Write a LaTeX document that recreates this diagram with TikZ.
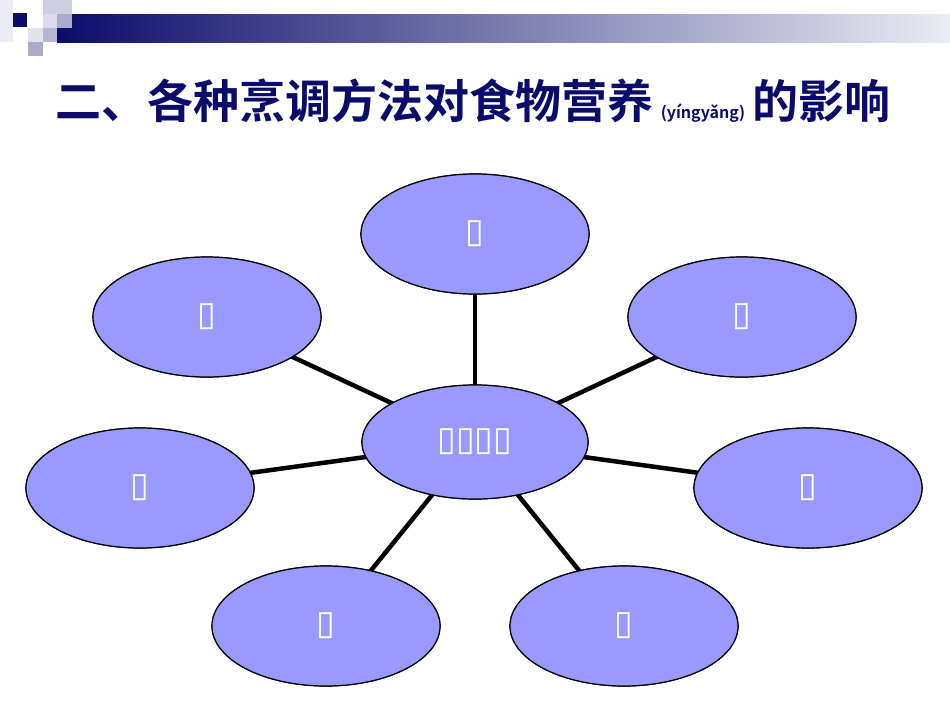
\documentclass[tikz,border=0pt]{standalone}
\usepackage{fontspec}
\usetikzlibrary{shapes.geometric}
\newfontfamily\cjk{Noto Sans CJK SC}[BoldFont={Noto Sans CJK SC Bold}]
\newfontfamily\djfont{DejaVu Sans}[BoldFont={DejaVu Sans Bold}]
\setmainfont{Liberation Sans}
\definecolor{navy}{HTML}{0B0B6B}
\definecolor{efill}{HTML}{9999FF}
\begin{document}
\begin{tikzpicture}[x=1pt,y=-1pt,
  ell/.style={ellipse,draw=black,line width=1.2pt,fill=efill,minimum width=228pt,minimum height=120pt,inner sep=0pt,text=white,font=\djfont\bfseries\fontsize{34}{34}\selectfont},
  spoke/.style={line width=4.5pt,black}]
\useasboundingbox (0,0) rectangle (950,713);
\fill[white] (0,0) rectangle (950,713);
% header decoration
\shade[left color=navy,right color=navy!8] (57,14) rectangle (950,42);
\fill[navy!8] (0,0) rectangle (13,42);
\fill[navy] (13,13) rectangle (27,27);
\fill[navy!20] (43,0) rectangle (72,14);
\fill[navy!15] (43,14) rectangle (57,28);
\fill[navy!35] (57,14) rectangle (72,28);
\fill[navy!12] (28,28) rectangle (43,42);
\fill[navy!30] (43,28) rectangle (57,42);
\fill[navy!35] (28,42) rectangle (43,56);
% title
\node[anchor=west,text=navy,inner sep=0pt] (title) at (55,101)
 {\cjk\bfseries\fontsize{46}{46}\selectfont 二、各种烹调方法对食物营养\,{\fontsize{16}{16}\selectfont(yíngyǎng)}\,的影响};
% ellipses
\node[ell,minimum width=226pt,minimum height=114pt] (c) at (475,442) {▯▯▯▯};
\node[ell] (t) at (475,234) {▯};
\node[ell] (ul) at (207,317) {▯};
\node[ell] (ur) at (742,317) {▯};
\node[ell] (l) at (140,488) {▯};
\node[ell] (r) at (808,488) {▯};
\node[ell] (bl) at (326,626) {▯};
\node[ell] (br) at (624,626) {▯};
\foreach \n in {t,ul,ur,l,r,bl,br}{
  \draw[spoke] (c.center) -- (\n.center);
}
% redraw ellipses on top of spokes
\node[ell,minimum width=226pt,minimum height=114pt] at (475,442) {▯▯▯▯};
\node[ell] at (475,234) {▯};
\node[ell] at (207,317) {▯};
\node[ell] at (742,317) {▯};
\node[ell] at (140,488) {▯};
\node[ell] at (808,488) {▯};
\node[ell] at (326,626) {▯};
\node[ell] at (624,626) {▯};
\end{tikzpicture}
\end{document}
